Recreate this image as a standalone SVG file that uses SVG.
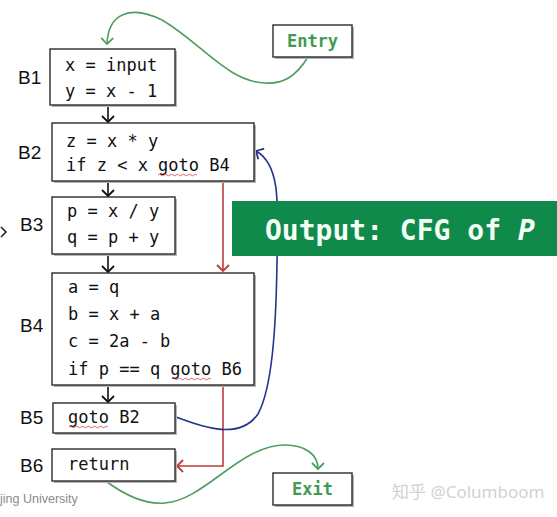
<svg xmlns="http://www.w3.org/2000/svg" width="557" height="517" viewBox="0 0 557 517">
<defs>
<marker id="ab" markerUnits="userSpaceOnUse" markerWidth="14" markerHeight="14" refX="7" refY="7" orient="auto"><path d="M1,1 L7,7 L1,13" fill="none" stroke="#111" stroke-width="1.8"/></marker>
<marker id="ar" markerUnits="userSpaceOnUse" markerWidth="14" markerHeight="14" refX="7" refY="7" orient="auto"><path d="M1,1 L7,7 L1,13" fill="none" stroke="#c0393b" stroke-width="1.8"/></marker>
<marker id="au" markerUnits="userSpaceOnUse" markerWidth="14" markerHeight="14" refX="7" refY="7" orient="auto"><path d="M1,1 L7,7 L1,13" fill="none" stroke="#26328c" stroke-width="1.8"/></marker>
<marker id="ag" markerUnits="userSpaceOnUse" markerWidth="14" markerHeight="14" refX="7" refY="7" orient="auto"><path d="M1,1 L7,7 L1,13" fill="none" stroke="#4f9d5f" stroke-width="1.8"/></marker>
</defs>
<style>
.box{fill:#fff;stroke:#2b2b2b;stroke-width:1.4}
.sh{fill:#b5b5b5}
.code{font-family:"DejaVu Sans Mono","Liberation Mono",monospace;font-size:17px;fill:#111}
.lbl{font-family:"Liberation Sans","DejaVu Sans",sans-serif;font-size:19px;fill:#111}
.term{font-family:"DejaVu Sans Mono","Liberation Mono",monospace;font-size:17px;font-weight:bold;fill:#3f9a52}
.sq{fill:none;stroke:#d04040;stroke-width:0.8}
</style>
<rect width="557" height="517" fill="#fff"/>

<g id="connectors" fill="none" stroke-width="1.6">
<path d="M108,105 L108,122" stroke="#111" marker-end="url(#ab)"/>
<path d="M108,181 L108,196" stroke="#111" marker-end="url(#ab)"/>
<path d="M108,254 L108,272" stroke="#111" marker-end="url(#ab)"/>
<path d="M108,385 L108,402" stroke="#111" marker-end="url(#ab)"/>
<path d="M223,181 L223,271" stroke="#c0393b" marker-end="url(#ar)"/>
<path d="M223,385 L223,466 L177,466" stroke="#c0393b" marker-end="url(#ar)"/>
<path d="M176,417 C205,428 240,440 258,414 C272,388 276,330 277,262 C278,205 281,165 256,151" stroke="#26328c" marker-end="url(#au)"/>
<path d="M308,57 C295,78 282,84 265,83 C228,82 200,42 162,20 C130,4 108,14 107,44" stroke="#4f9d5f" marker-end="url(#ag)"/>
<path d="M107,482 C125,495 145,505 165,503 C205,500 240,445 285,445 C306,445 318,455 318,469" stroke="#4f9d5f" marker-end="url(#ag)"/>
</g>

<g id="entry">
<rect class="sh" x="275" y="27" width="79" height="32"/>
<rect class="box" x="273" y="25" width="79" height="32"/>
<text class="term" x="312.5" y="47" text-anchor="middle">Entry</text>
</g>

<g id="B1">
<rect class="sh" x="52" y="51" width="125" height="56"/>
<rect class="box" x="50" y="49" width="125" height="56"/>
<text class="lbl" x="18" y="84">B1</text>
<text class="code" x="65" y="71" xml:space="preserve">x = input</text>
<text class="code" x="65" y="97" xml:space="preserve">y = x - 1</text>
</g>

<g id="B2">
<rect class="sh" x="54" y="125" width="202" height="58"/>
<rect class="box" x="52" y="123" width="202" height="58"/>
<text class="lbl" x="18" y="159">B2</text>
<text class="code" x="66" y="147" xml:space="preserve">z = x * y</text>
<text class="code" x="66" y="171" xml:space="preserve">if z &lt; x goto B4</text>
<path class="sq" d="M158,175 q1.5,-1.5 3,0 t3,0 t3,0 t3,0 t3,0 t3,0 t3,0 t3,0 t3,0 t3,0 t3,0 t3,0 t3,0"/>
</g>

<g id="B3">
<rect class="sh" x="54" y="199" width="123" height="57"/>
<rect class="box" x="52" y="197" width="123" height="57"/>
<text class="lbl" x="20" y="231">B3</text>
<text class="code" x="67" y="217" xml:space="preserve">p = x / y</text>
<text class="code" x="67" y="243" xml:space="preserve">q = p + y</text>
</g>

<g id="B4">
<rect class="sh" x="54" y="275" width="202" height="112"/>
<rect class="box" x="52" y="273" width="202" height="112"/>
<text class="lbl" x="20" y="332">B4</text>
<text class="code" x="68" y="293" xml:space="preserve">a = q</text>
<text class="code" x="68" y="320" xml:space="preserve">b = x + a</text>
<text class="code" x="68" y="347" xml:space="preserve">c = 2a - b</text>
<text class="code" x="68" y="375" xml:space="preserve">if p == q goto B6</text>
<path class="sq" d="M172,379 q1.5,-1.5 3,0 t3,0 t3,0 t3,0 t3,0 t3,0 t3,0 t3,0 t3,0 t3,0 t3,0 t3,0 t3,0"/>
</g>

<g id="B5">
<rect class="sh" x="55" y="405" width="122" height="30"/>
<rect class="box" x="53" y="403" width="122" height="30"/>
<text class="lbl" x="20" y="424">B5</text>
<text class="code" x="68" y="423" xml:space="preserve">goto B2</text>
<path class="sq" d="M69,427 q1.5,-1.5 3,0 t3,0 t3,0 t3,0 t3,0 t3,0 t3,0 t3,0 t3,0 t3,0 t3,0 t3,0 t3,0"/>
</g>

<g id="B6">
<rect class="sh" x="54" y="451" width="123" height="32"/>
<rect class="box" x="52" y="449" width="123" height="32"/>
<text class="lbl" x="20" y="472">B6</text>
<text class="code" x="68" y="470" xml:space="preserve">return</text>
</g>

<g id="exit">
<rect class="sh" x="275" y="475" width="79" height="32"/>
<rect class="box" x="273" y="473" width="79" height="32"/>
<text class="term" x="312.5" y="495" text-anchor="middle">Exit</text>
</g>

<g id="output">
<rect x="232" y="201" width="325" height="55" fill="#0f8a4b"/>
<text x="265" y="240" font-family="'DejaVu Sans Mono','Liberation Mono',monospace" font-size="28" font-weight="bold" fill="#f4fff6" xml:space="preserve">Output: CFG of <tspan font-style="italic">P</tspan></text>
</g>

<path d="M1,227 L6,232 L1,237" fill="none" stroke="#222" stroke-width="1.6"/>
<text x="0" y="503" font-family="'Liberation Sans','DejaVu Sans',sans-serif" font-size="12.5" fill="#8a8a8a">jing University</text>
<text x="392" y="498" font-family="'Noto Sans','Noto Sans CJK SC',sans-serif" font-size="17" fill="#d2d2d2">知乎 @Columboom</text>
</svg>
